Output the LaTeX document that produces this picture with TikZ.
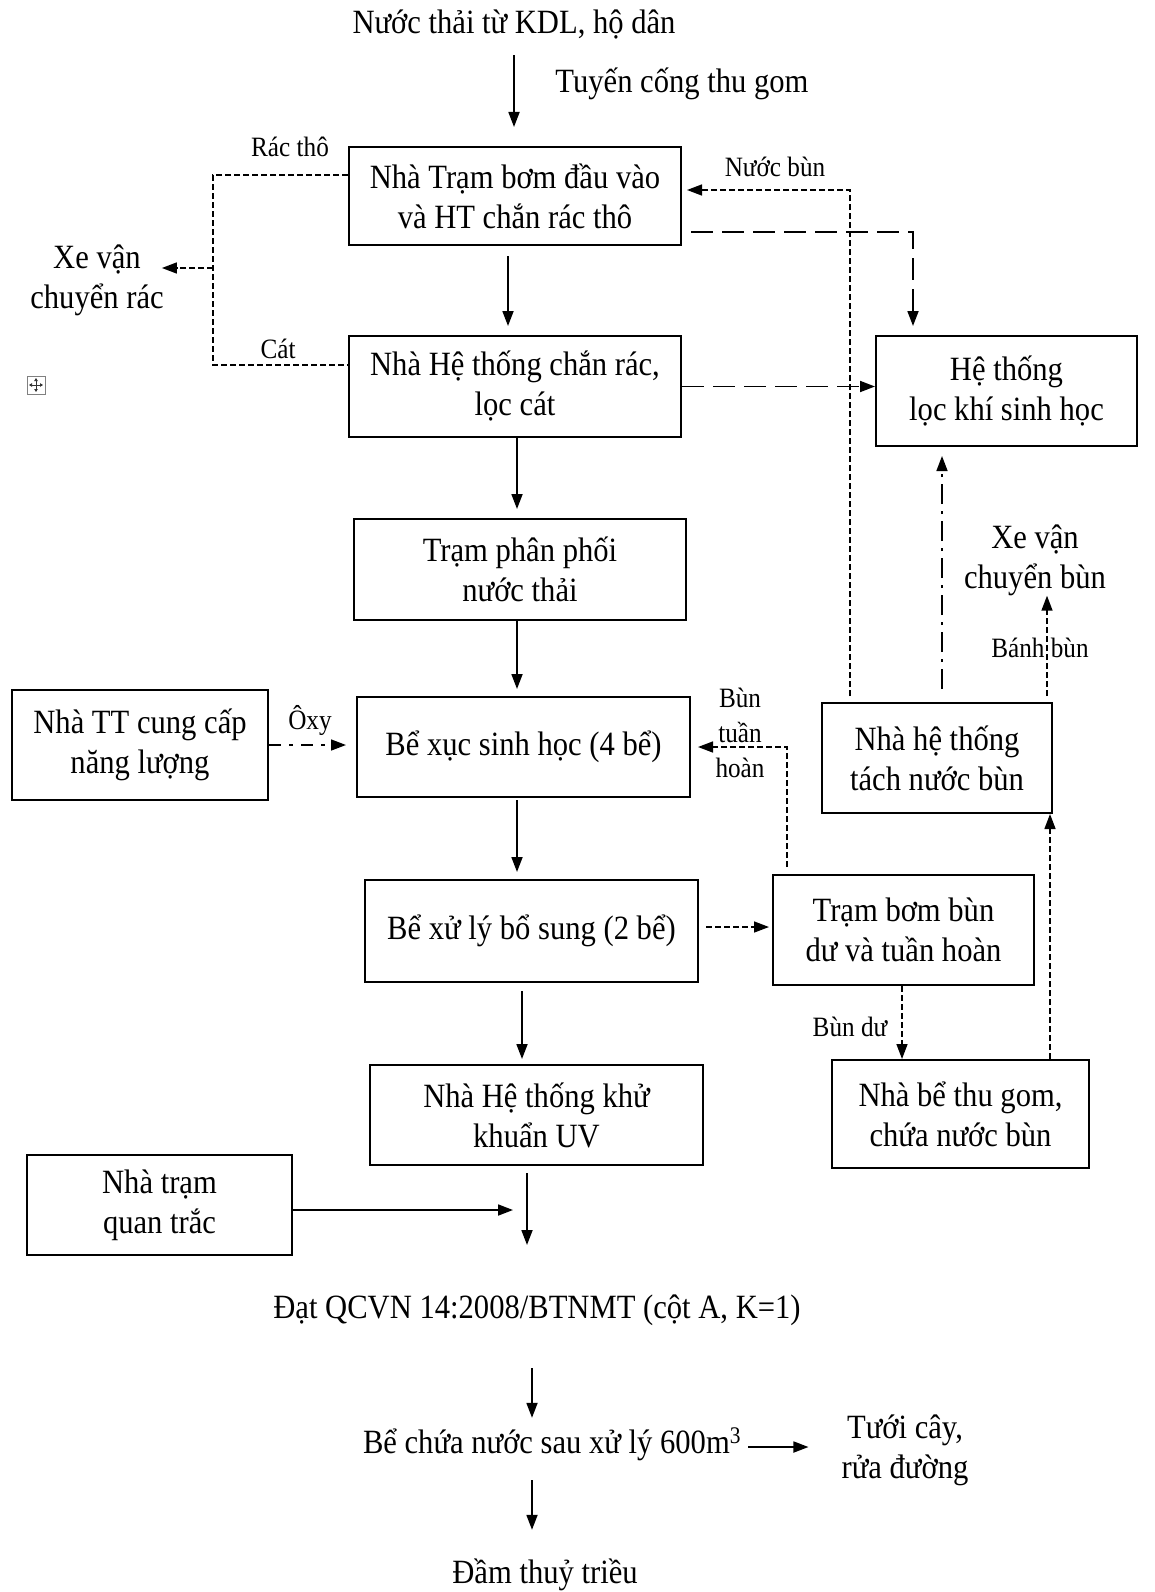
\documentclass[tikz,border=0pt]{standalone}
\usepackage{fontspec}
\setmainfont{Liberation Serif}[FakeStretch=0.9]
\usetikzlibrary{arrows.meta}
\begin{document}
\begin{tikzpicture}[x=1pt,y=-1pt,
  box/.style={draw, line width=2pt, align=center, inner sep=0pt,
    font=\fontsize{34}{40}\selectfont},
  txt/.style={align=center, inner sep=0pt, font=\fontsize{34}{40}\selectfont},
  one/.style={text height=24pt, text depth=8pt},
  lbl/.style={align=center, inner sep=0pt, font=\fontsize{28}{35}\selectfont},
  tip/.style={-{Triangle[length=15pt,width=11pt]}},
  arr/.style={tip, line width=1.8pt},
  sdash/.style={line width=1.5pt, dash pattern=on 6pt off 3pt},
  ldash/.style={line width=1.8pt, dash pattern=on 22pt off 9pt},
  ddot/.style={line width=1.5pt, dash pattern=on 20pt off 7pt on 3pt off 7pt},
  oxy/.style={line width=1.5pt, dash pattern=on 12pt off 8pt on 4pt off 8pt}
]
\useasboundingbox (0,0) rectangle (1154,1592);

% text nodes
\node[txt,one] (t0) at (514,26) {Nước thải từ KDL, hộ dân};
\node[txt,one] (tg) at (682,85) {Tuyến cống thu gom};
\node[txt] (xr) at (97,280) {Xe vận\\chuyển rác};
\node[txt] (xb) at (1035,560) {Xe vận\\chuyển bùn};
\node[txt,one] (t2) at (537,1310) {Đạt QCVN 14:2008/BTNMT (cột A, K=1)};
\node[txt,one] (t3) at (552,1445) {Bể chứa nước sau xử lý 600m\textsuperscript{3}};
\node[txt] (t4) at (905,1450) {Tưới cây,\\rửa đường};
\node[txt,one] (t5) at (545,1575) {Đầm thuỷ triều};

% boxes
\node[box, minimum width=332pt, minimum height=98pt] (b1) at (515,196) {Nhà Trạm bơm đầu vào\\và HT chắn rác thô};
\node[box, minimum width=332pt, minimum height=101pt] (b2) at (515,386.5) {Nhà Hệ thống chắn rác,\\lọc cát};
\node[box, minimum width=332pt, minimum height=101pt] (b3) at (520,569.5) {Trạm phân phối\\nước thải};
\node[box, minimum width=333pt, minimum height=100pt] (b4) at (523.5,747) {Bể xục sinh học (4 bể)};
\node[box, minimum width=333pt, minimum height=102pt] (b5) at (531.5,931) {Bể xử lý bổ sung (2 bể)};
\node[box, minimum width=333pt, minimum height=100pt] (b6) at (536.5,1115) {Nhà Hệ thống khử\\khuẩn UV};
\node[box, minimum width=265pt, minimum height=100pt] (b7) at (159.5,1205) {Nhà trạm\\quan trắc};
\node[box, minimum width=256pt, minimum height=110pt] (b0) at (140,745) {Nhà TT cung cấp\\năng lượng};
\node[box, minimum width=261pt, minimum height=110pt] (b8) at (1006.5,391) {Hệ thống\\lọc khí sinh học};
\node[box, minimum width=230pt, minimum height=110pt] (b9) at (937,758) {Nhà hệ thống\\tách nước bùn};
\node[box, minimum width=261pt, minimum height=110pt] (b10) at (903.5,930) {Trạm bơm bùn\\dư và tuần hoàn};
\node[box, minimum width=257pt, minimum height=108pt] (b11) at (960.5,1114) {Nhà bể thu gom,\\chứa nước bùn};

% labels
\node[lbl] (lrt) at (290,147) {Rác thô};
\node[lbl] (lcat) at (278,349) {Cát};
\node[lbl] (lnb) at (775,167) {Nước bùn};
\node[lbl] (lbb) at (1040,648) {Bánh bùn};
\node[lbl] (lbth) at (740,733) {Bùn\\tuần\\hoàn};
\node[lbl] (lbd) at (850,1027) {Bùn dư};
\node[lbl] (loxy) at (310,720) {Ôxy};

% move handle
\node[draw=gray, line width=1pt, minimum size=18pt, inner sep=0pt] (mh) at (36,385) {};
\draw[line width=0.8pt, gray!40!black, {Triangle[length=3pt,width=3.5pt]}-{Triangle[length=3pt,width=3.5pt]}]
  ([yshift=7pt]mh.center) -- ([yshift=-7pt]mh.center);
\draw[line width=0.8pt, gray!40!black, {Triangle[length=3pt,width=3.5pt]}-{Triangle[length=3pt,width=3.5pt]}]
  ([xshift=-7pt]mh.center) -- ([xshift=7pt]mh.center);

% main column
\draw[arr, shorten <=13pt, shorten >=19pt] (t0.south) -- (t0.south |- b1.north);
\draw[arr, shorten <=10pt, shorten >=9pt] ([xshift=-7pt]b1.south) -- ([xshift=-7pt]b2.north);
\draw[arr, shorten >=9pt] ([xshift=2pt]b2.south) -- ([xshift=-3pt]b3.north);
\draw[arr, shorten >=7pt] ([xshift=-3pt]b3.south) -- ([xshift=-6.5pt]b4.north);
\draw[arr, shorten <=2pt, shorten >=7pt] ([xshift=-6.5pt]b4.south) -- ([xshift=-14.5pt]b5.north);
\draw[arr, shorten <=8pt, shorten >=5pt] ([xshift=-9.5pt]b5.south) -- ([xshift=-14.5pt]b6.north);
\coordinate (j) at (527,1210);
\draw[arr, shorten >=14pt] (b7.east |- j) -- (j);
\draw[arr, shorten <=7pt, shorten >=-35pt] ([xshift=-9.5pt]b6.south) -- (j);
\draw[arr, shorten <=42pt, shorten >=11pt] ([xshift=-5pt]t2.south) -- ([xshift=-20pt]t3.north);
\draw[arr, shorten <=19pt, shorten >=29pt] ([xshift=-20pt]t3.south) -- ([xshift=-13pt]t5.north);
\draw[arr, shorten <=7pt, shorten >=33pt] ([yshift=-2pt]t3.east) -- ([yshift=-2pt]t3.east -| t4.west);

% left dashed
\coordinate (c1) at (213,268);
\draw[sdash] ([yshift=21pt]b1.west) -| (c1) |- ([yshift=21.5pt]b2.west);
\draw[sdash, tip] (c1) -- ([xshift=-2pt]c1 -| xr.east);

% oxy
\draw[oxy, tip, shorten >=10pt] (b0.east) -- (b0.east -| b4.west);

% right side
\draw[ldash, tip, shorten <=9pt, shorten >=9pt] ([yshift=-36pt]b1.east) -| ([xshift=-93.5pt]b8.north);
\draw[ldash, tip] (b2.east) -- (b2.east -| b8.west);
\coordinate (p9a) at ([xshift=-87pt]b9.north);
\draw[sdash, tip, shorten <=6pt, shorten >=5pt] (p9a) |- ([yshift=6pt]b1.east);
\coordinate (p9b) at ([xshift=5pt]b9.north);
\draw[ddot, tip, shorten <=13pt, shorten >=9pt] (p9b) -- (p9b |- b8.south);
\coordinate (p9c) at ([xshift=110pt]b9.north);
\draw[sdash, tip, shorten <=6pt] (p9c) -- (p9c |- xb.south);
\draw[sdash, tip, shorten <=7pt, shorten >=3pt] ([yshift=4pt]b5.east) -- ([yshift=4pt]b5.east -| b10.west);
\coordinate (p10) at ([xshift=-116.5pt]b10.north);
\draw[sdash, tip, shorten <=7pt, shorten >=7pt] (p10) |- (b4.east);
\draw[sdash, tip] ([xshift=-1.5pt]b10.south) -- ([xshift=-1.5pt]b10.south |- b11.north);
\coordinate (p11) at ([xshift=89.5pt]b11.north);
\draw[sdash, tip] (p11) -- (p11 |- b9.south);
\end{tikzpicture}
\end{document}
